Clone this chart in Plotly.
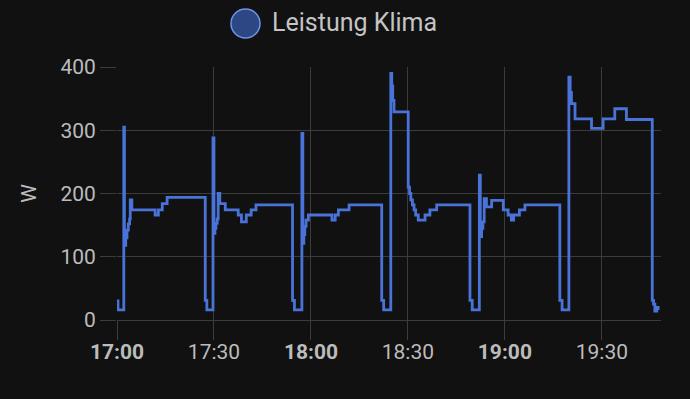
import pandas as pd
import plotly.graph_objects as go

# Data: minutes after 17:00 and power (W), step-wise series
start = "2024-06-01 17:00:00"
minutes = [
    0.0, 0.3, 2.1, 2.3, 2.7, 3.1, 3.5, 3.9, 4.1, 4.6, 11.8, 12.8, 14.0, 15.5,
    27.3, 27.8, 29.7, 30.0, 30.3, 30.6, 31.0, 31.3, 31.8, 33.5, 37.5, 38.5, 40.0, 41.5, 43.0,
    54.3, 54.9, 57.2, 57.5, 57.8, 58.1, 58.5, 59.2, 66.5, 67.5, 68.5, 71.8,
    81.9, 82.5, 84.7, 85.0, 85.3, 85.7, 90.1, 90.5, 90.9, 91.4, 91.9, 92.4, 93.2, 95.3, 96.8, 98.9,
    109.2, 109.9, 112.1, 112.4, 112.8, 113.2, 113.6, 114.3, 115.9, 119.5, 121.0, 122.0, 122.7, 124.5, 126.2,
    137.0, 137.7, 139.8, 140.2, 140.6, 141.7, 146.8, 150.4, 154.0, 157.6,
    165.6, 166.0, 166.4, 167.0, 167.4,
]
watts = [
    30, 16, 305, 118, 130, 142, 152, 160, 190, 174, 166, 174, 184, 194,
    31, 16, 288, 137, 145, 153, 160, 200, 184, 174, 166, 155, 166, 174, 182,
    31, 16, 295, 121, 135, 148, 158, 166, 158, 166, 174, 182,
    31, 16, 390, 370, 347, 329, 210, 200, 190, 182, 174, 166, 158, 166, 174, 182,
    31, 16, 229, 132, 145, 155, 192, 179, 189, 174, 166, 158, 166, 174, 182,
    31, 16, 384, 360, 342, 318, 303, 318, 334, 317,
    31, 25, 14, 20, 16,
]
series_name = "Leistung Klima"
y_ticks = [0, 100, 200, 300, 400]
x_tick_times = ["17:00", "17:30", "18:00", "18:30", "19:00", "19:30"]
x_tick_text = ["<b>17:00</b>", "17:30", "<b>18:00</b>", "18:30", "<b>19:00</b>", "19:30"]

t0 = pd.Timestamp(start)
times = [t0 + pd.Timedelta(minutes=m) for m in minutes]
tick_vals = [pd.Timestamp("2024-06-01 " + s) for s in x_tick_times]

BG = "#111111"
GRID = "#3c3c3c"
TXT = "#bcbcbc"
LINE = "#4a73d9"

fig = go.Figure()
fig.add_trace(go.Scatter(
    x=times, y=watts, mode="lines", name=series_name,
    line=dict(color=LINE, width=2.8, shape="hv"),
    showlegend=False,
))

fig.update_layout(
    width=690, height=399,
    paper_bgcolor=BG, plot_bgcolor=BG,
    margin=dict(l=117, r=29, t=67, b=79),
    font=dict(family="Roboto", color=TXT),
    xaxis=dict(
        range=[t0, t0 + pd.Timedelta(minutes=168.3)],
        tickvals=tick_vals, ticktext=x_tick_text,
        tickfont=dict(size=21, color=TXT),
        showgrid=True, gridcolor=GRID, gridwidth=1,
        ticks="outside", ticklen=19, tickcolor=GRID, tickwidth=1,
        ticklabelstandoff=-6,
        showline=False, zeroline=False,
    ),
    yaxis=dict(
        range=[0, 400], tickvals=y_ticks,
        tickfont=dict(size=21, color=TXT),
        showgrid=True, gridcolor=GRID, gridwidth=1,
        ticks="outside", ticklen=16, tickcolor=GRID, tickwidth=1,
        zeroline=True, zerolinecolor=GRID, zerolinewidth=1,
        showline=False,
        title=dict(text="W", font=dict(size=21, color=TXT), standoff=18),
    ),
    shapes=[dict(
        type="circle", xref="paper", yref="paper",
        x0=(231 - 117) / 544, x1=(260 - 117) / 544,
        y0=(320 - 38) / 253, y1=(320 - 9) / 253,
        fillcolor="#2d4785", line=dict(color="#6f93e6", width=1.5),
    )],
    annotations=[dict(
        text=series_name, xref="paper", yref="paper",
        x=(270 - 117) / 544, y=(320 - 23) / 253,
        xanchor="left", yanchor="middle", showarrow=False,
        font=dict(size=25, color="#c4c4c4", family="Roboto"),
    )],
)

fig.write_html("out.html")
